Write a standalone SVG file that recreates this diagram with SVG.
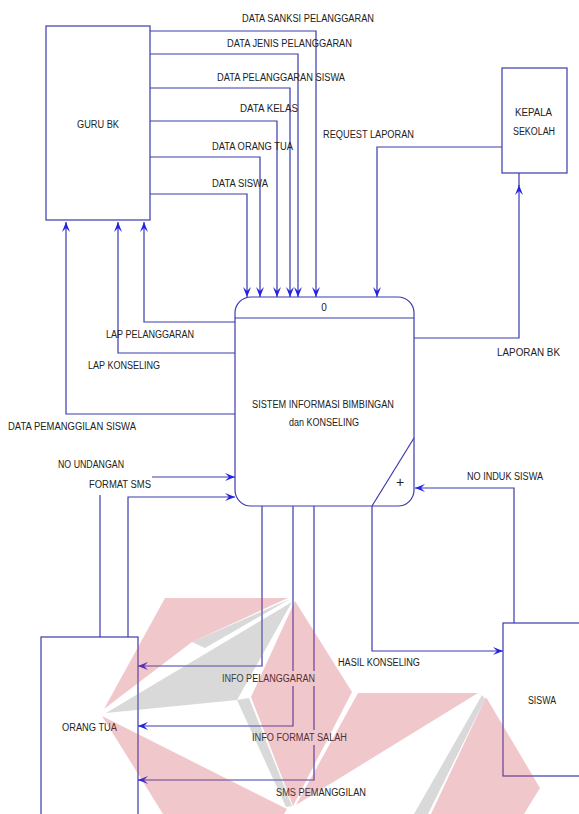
<svg xmlns="http://www.w3.org/2000/svg" width="579" height="814" viewBox="0 0 579 814">
<style>
.box{fill:none;stroke:#3a3ab0;stroke-width:1.2}
.flow{fill:none;stroke:#3a3ab0;stroke-width:1.2}
.t{font-family:"Liberation Sans",Arial,sans-serif;font-size:10px;fill:#222}
.bg{fill:#fff}
.wp{fill:#cd4855;fill-opacity:0.3}
.wg{fill:#808080;fill-opacity:0.3}
</style>
<defs>
<marker id="ah" viewBox="-11 -5 12 10" refX="0" refY="0" markerWidth="12" markerHeight="10" markerUnits="userSpaceOnUse" orient="auto">
<path d="M0,0 L-10,-4 L-6,0 L-10,4 Z" fill="#2424e6"/>
</marker>
</defs>
<rect x="0" y="0" width="579" height="814" fill="#fff"/>

<g id="guru-bk">
<rect class="box" x="46" y="26" width="104" height="194"/>
<text class="t" x="77" y="127.5" textLength="42" lengthAdjust="spacingAndGlyphs">GURU BK</text>
</g>
<g id="kepala-sekolah">
<rect class="box" x="502" y="68" width="65" height="105"/>
<text class="t" x="515" y="115.5" textLength="37" lengthAdjust="spacingAndGlyphs">KEPALA</text>
<text class="t" x="513" y="134.5" textLength="42" lengthAdjust="spacingAndGlyphs">SEKOLAH</text>
</g>
<g id="process-0">
<rect class="box" x="235" y="297" width="179" height="209" rx="16" ry="16"/>
<line class="box" x1="235" y1="318" x2="414" y2="318"/>
<line class="box" x1="414" y1="438" x2="372" y2="506"/>
<text class="t" x="324" y="310.5" text-anchor="middle">0</text>
<text class="t" x="252" y="407.5" textLength="142" lengthAdjust="spacingAndGlyphs">SISTEM INFORMASI BIMBINGAN</text>
<text class="t" x="289" y="425.5" textLength="70" lengthAdjust="spacingAndGlyphs">dan KONSELING</text>
<text class="t" x="400" y="487" text-anchor="middle" style="font-size:14px">+</text>
</g>
<g id="orang-tua">
<rect class="box" x="41" y="637" width="97" height="200"/>
<text class="t" x="62" y="730.5" textLength="55" lengthAdjust="spacingAndGlyphs">ORANG TUA</text>
</g>
<g id="siswa">
<rect class="box" x="503" y="623" width="90" height="153"/>
<text class="t" x="528" y="703.5" textLength="28" lengthAdjust="spacingAndGlyphs">SISWA</text>
</g>

<g id="connectors">
<path class="flow" d="M150,31 H316 V297" marker-end="url(#ah)"/>
<path class="flow" d="M150,54 H298 V297" marker-end="url(#ah)"/>
<path class="flow" d="M150,88 H290 V297" marker-end="url(#ah)"/>
<path class="flow" d="M150,121 H277 V297" marker-end="url(#ah)"/>
<path class="flow" d="M150,157 H260 V297" marker-end="url(#ah)"/>
<path class="flow" d="M150,194 H247 V297" marker-end="url(#ah)"/>
<path class="flow" d="M502,147 H377 V297" marker-end="url(#ah)"/>
<path class="flow" d="M414,338 H519 V185" marker-end="url(#ah)"/>
<path class="flow" d="M519,186 V173"/>
<path class="flow" d="M235,322 H144 V222" marker-end="url(#ah)"/>
<path class="flow" d="M235,353 H118 V222" marker-end="url(#ah)"/>
<path class="flow" d="M235,414 H66 V222" marker-end="url(#ah)"/>
<path class="flow" d="M100,637 V495"/>
<path class="flow" d="M152,477 H235" marker-end="url(#ah)"/>
<path class="flow" d="M128,637 V497 H235" marker-end="url(#ah)"/>
<path class="flow" d="M262,506 V666 H138" marker-end="url(#ah)"/>
<path class="flow" d="M293,506 V726 H138" marker-end="url(#ah)"/>
<path class="flow" d="M314,506 V780 H138" marker-end="url(#ah)"/>
<path class="flow" d="M372,506 V651 H503" marker-end="url(#ah)"/>
<path class="flow" d="M514,623 V488 H415" marker-end="url(#ah)"/>
</g>

<g id="labels">
<text class="t" x="242" y="21.5" textLength="132" lengthAdjust="spacingAndGlyphs">DATA SANKSI PELANGGARAN</text>
<text class="t" x="227" y="46.5" textLength="125" lengthAdjust="spacingAndGlyphs">DATA JENIS PELANGGARAN</text>
<text class="t" x="217" y="80.5" textLength="128" lengthAdjust="spacingAndGlyphs">DATA PELANGGARAN SISWA</text>
<text class="t" x="240" y="111.5" textLength="58" lengthAdjust="spacingAndGlyphs">DATA KELAS</text>
<text class="t" x="212" y="149.5" textLength="81" lengthAdjust="spacingAndGlyphs">DATA ORANG TUA</text>
<text class="t" x="212" y="186.5" textLength="56" lengthAdjust="spacingAndGlyphs">DATA SISWA</text>
<text class="t" x="323" y="137.5" textLength="91" lengthAdjust="spacingAndGlyphs">REQUEST LAPORAN</text>
<text class="t" x="497" y="355.5" textLength="63" lengthAdjust="spacingAndGlyphs">LAPORAN BK</text>
<text class="t" x="106" y="337.5" textLength="88" lengthAdjust="spacingAndGlyphs">LAP PELANGGARAN</text>
<text class="t" x="88" y="368.5" textLength="72" lengthAdjust="spacingAndGlyphs">LAP KONSELING</text>
<text class="t" x="8" y="429.5" textLength="128" lengthAdjust="spacingAndGlyphs">DATA PEMANGGILAN SISWA</text>
<text class="t" x="58" y="467.5" textLength="66" lengthAdjust="spacingAndGlyphs">NO UNDANGAN</text>
<text class="t" x="89" y="487.5" textLength="62" lengthAdjust="spacingAndGlyphs">FORMAT SMS</text>
<text class="t" x="467" y="479.5" textLength="76" lengthAdjust="spacingAndGlyphs">NO INDUK SISWA</text>
<text class="t" x="338" y="665.5" textLength="82" lengthAdjust="spacingAndGlyphs">HASIL KONSELING</text>
<rect class="bg" x="220" y="671" width="98" height="15"/>
<text class="t" x="222" y="681.5" textLength="93" lengthAdjust="spacingAndGlyphs">INFO PELANGGARAN</text>
<rect class="bg" x="250" y="730" width="99" height="15"/>
<text class="t" x="252" y="740.5" textLength="95" lengthAdjust="spacingAndGlyphs">INFO FORMAT SALAH</text>
<text class="t" x="276" y="795.5" textLength="90" lengthAdjust="spacingAndGlyphs">SMS PEMANGGILAN</text>
</g>

<g id="watermark">
<polygon class="wp" points="165,598 288,598 192,642 104,709"/>
<polygon class="wg" points="290,599 192,642 205,648"/>
<polygon class="wg" points="106,713 292,602 237,700"/>
<polygon class="wg" points="237,700 249,698 292,806 286,807"/>
<polygon class="wp" points="295,601 352,692 293,806 251,697"/>
<polygon class="wp" points="102,716 287,809 284,814 163,814"/>
<polygon class="wp" points="358,693 478,693 296,805"/>
<polygon class="wg" points="482,695 414,814 428,814 485,699"/>
<polygon class="wp" points="486,697 540,788 524,814 431,814"/>
</g>
</svg>
